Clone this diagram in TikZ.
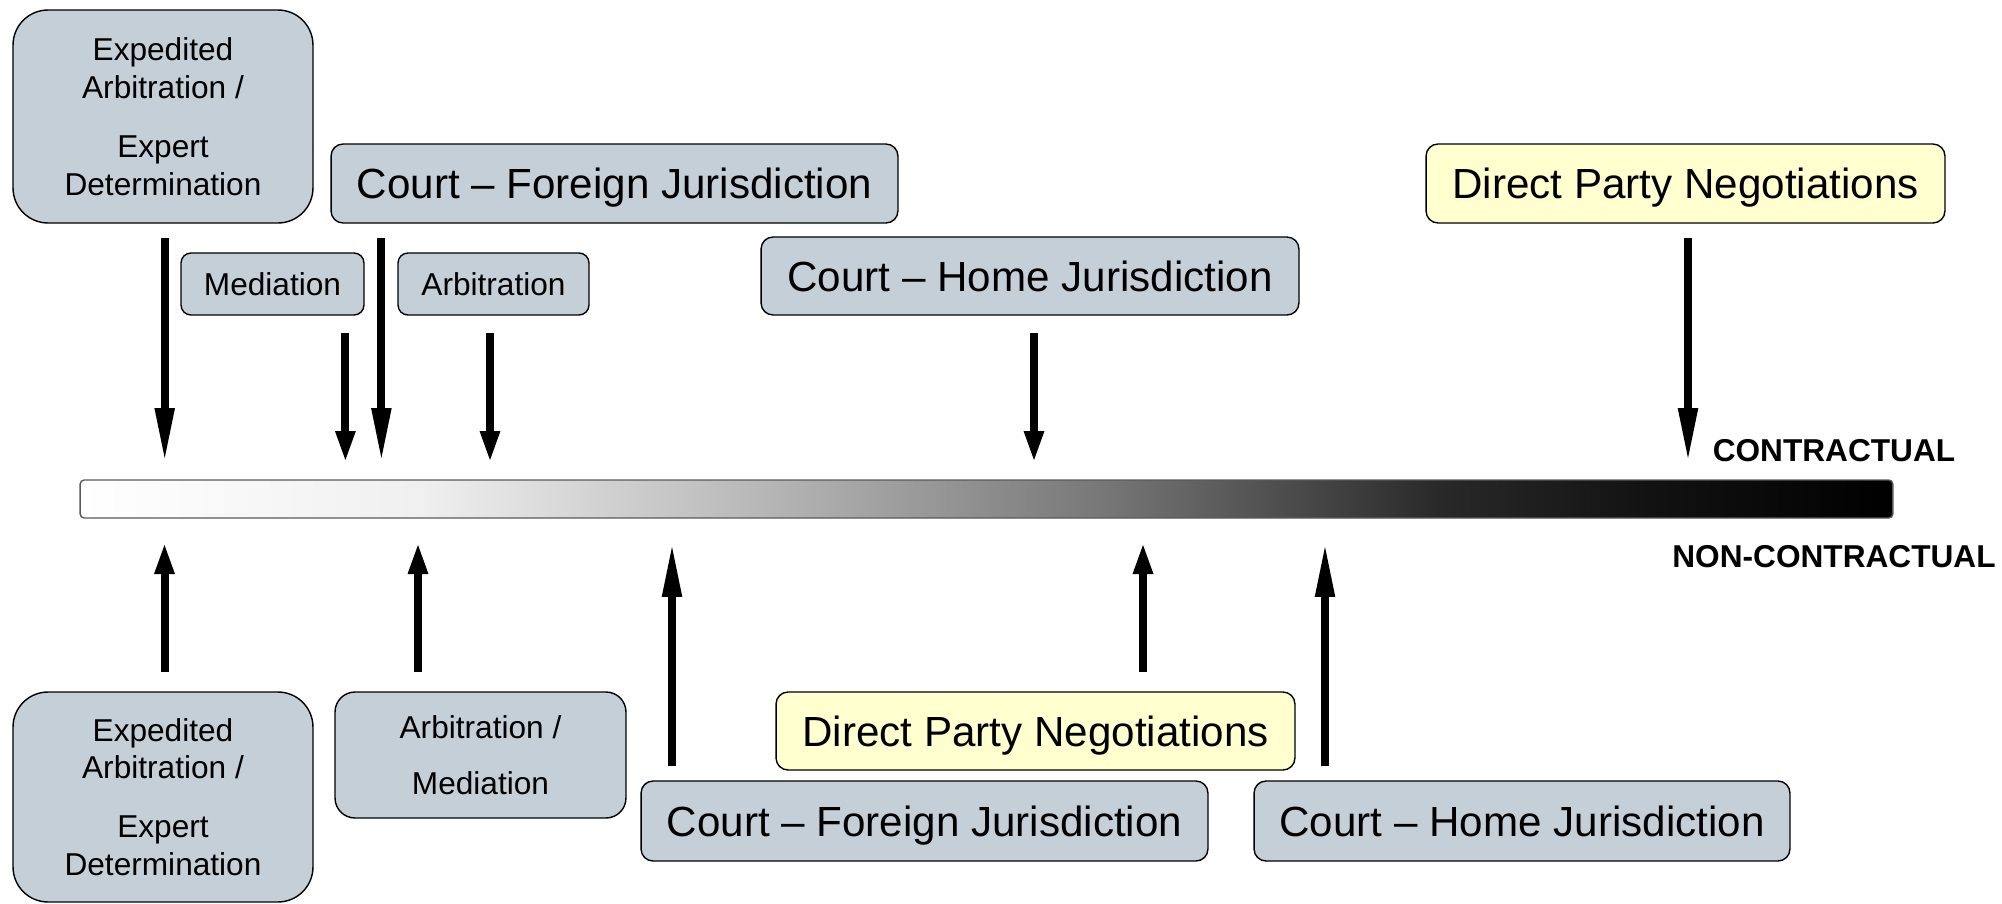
\documentclass[tikz,border=0pt]{standalone}
\usepackage{fontspec}
\setmainfont{Liberation Sans}
\usetikzlibrary{arrows.meta,calc}

\definecolor{boxgrey}{RGB}{196,207,216}
\definecolor{dpnyellow}{RGB}{255,255,208}

% white (non-contractual end) to black (contractual end)
\pgfdeclarehorizontalshading{contract}{100bp}{color(0bp)=(white); color(25bp)=(white); color(34.4bp)=(black!6); color(43.7bp)=(black!28); color(53.1bp)=(black!53); color(62.5bp)=(black!84); color(68.3bp)=(black!93); color(75bp)=(black); color(100bp)=(black)}

\begin{document}
\begin{tikzpicture}[x=0.02cm, y=-0.02cm]

	\tikzset{
		basebox/.style={draw=black, line width=0.8pt, fill=boxgrey, inner sep=0pt},
		box/.style={basebox, rounded corners=0.24cm, font=\fontsize{24}{28}\selectfont, text height=22pt, text depth=4.8pt},
		smallbox/.style={basebox, rounded corners=0.2cm, align=center, font=\fontsize{18}{21.5}\selectfont},
		bigbox/.style={smallbox, rounded corners=0.7cm},
		dpnbox/.style={box, fill=dpnyellow},
		sidetext/.style={font=\fontsize{18}{21.5}\selectfont\bfseries},
		arr/.style={line width=0.16cm, -{Triangle[length=#1, width=0.36cm]}}
	}

	\useasboundingbox (0,0) rectangle (2002,903);

	% scale bar
	\node[shade, shading=contract, draw=black!65, line width=0.8pt, rounded corners=0.08cm, minimum width=36.26cm, minimum height=0.76cm, inner sep=0pt] (bar) at (986.5,499) {};
	\node[sidetext] (conLbl) at (1834,451) {CONTRACTUAL};
	\node[sidetext] (nonLbl) at (1834,557) {NON-CONTRACTUAL};

	% contractual side
	\node[bigbox, minimum width=6cm, minimum height=4.26cm] (expTop) at (163,116.5) {Expedited\\Arbitration /\\[12pt]Expert\\Determination};
	\node[box, minimum width=11.34cm, minimum height=1.58cm] (forTop) at (614.5,183.5) {Court – Foreign Jurisdiction};
	\node[smallbox, minimum width=3.66cm, minimum height=1.24cm] (medTop) at (272.5,284) {Mediation};
	\node[smallbox, minimum width=3.82cm, minimum height=1.24cm] (arbTop) at (493.5,284) {Arbitration};
	\node[box, minimum width=10.76cm, minimum height=1.56cm] (homeTop) at (1030,276) {Court – Home Jurisdiction};
	\node[dpnbox, minimum width=10.38cm, minimum height=1.58cm] (dpnTop) at (1685.5,183.5) {Direct Party Negotiations};

	% non-contractual side
	\node[bigbox, minimum width=6cm, minimum height=4.2cm] (expBot) at (163,797) {Expedited\\Arbitration /\\[12pt]Expert\\Determination};
	\node[smallbox, rounded corners=0.4cm, minimum width=5.82cm, minimum height=2.52cm] (amBot) at (480.5,755) {Arbitration /\\[10.3pt]Mediation};
	\node[box, minimum width=11.34cm, minimum height=1.6cm] (forBot) at (924.5,821) {Court – Foreign Jurisdiction};
	\node[dpnbox, minimum width=10.38cm, minimum height=1.56cm] (dpnBot) at (1035.5,731) {Direct Party Negotiations};
	\node[box, minimum width=10.72cm, minimum height=1.6cm] (homeBot) at (1522,821) {Court – Home Jurisdiction};

	\coordinate (topTips) at (0,463);
	\coordinate (botTips) at (0,542);

	\foreach \src/\dx/\dy/\hd [count=\i] in {expTop/1.7/14/1.1cm, medTop/72.9/17/0.64cm, forTop/-233.1/14/1.1cm, arbTop/-3.5/17/0.64cm, homeTop/4/17/0.64cm, dpnTop/2.5/14/1.1cm}{
		\coordinate (tailT\i) at ($(\src.south)+(\dx,\dy)$);
		\draw[arr=\hd] (tailT\i) -- (tailT\i |- topTips);
	}

	\foreach \src/\dx/\dy/\hd [count=\i] in {expBot/1.5/-19/0.64cm, amBot/-62.5/-19/0.64cm, forBot/-252.5/-14/1.1cm, dpnBot/107.5/-19/0.64cm, homeBot/-197/-14/1.1cm}{
		\coordinate (tailB\i) at ($(\src.north)+(\dx,\dy)$);
		\draw[arr=\hd] (tailB\i) -- (tailB\i |- botTips);
	}

\end{tikzpicture}
\end{document}
